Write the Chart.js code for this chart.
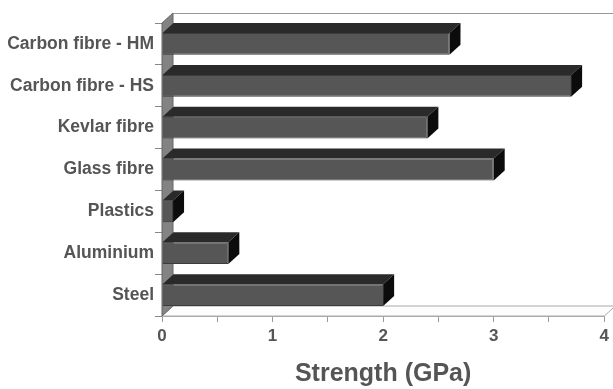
<!DOCTYPE html>
<html>
<head>
<meta charset="utf-8">
<script src="https://cdn.jsdelivr.net/npm/chart.js@4.4.0/dist/chart.umd.min.js"></script>
<style>
  html, body { margin: 0; padding: 0; background: #fff; }
  #wrap { width: 613px; height: 389px; }
</style>
</head>
<body>
<div id="wrap"><canvas id="strength-chart"></canvas></div>
<script>
const materials = ['Carbon fibre - HM', 'Carbon fibre - HS', 'Kevlar fibre', 'Glass fibre', 'Plastics', 'Aluminium', 'Steel'];
const strengthGPa = [2.6, 3.7, 2.4, 3.0, 0.1, 0.6, 2.0];
const strengthTicks = [0, 1, 2, 3, 4];

const fontFamily = "'Liberation Sans', Arial, sans-serif";
const textGray = '#555';

// how far the 3d depth goes back (right and up)
const depthX = 11;
const depthY = 10;

const box3d = {
    id: 'box3d',
    beforeDatasetsDraw(chart) {
        const { ctx, chartArea: a } = chart;
        ctx.save();
        ctx.lineWidth = 1;

        //back wall top edge
        ctx.strokeStyle = '#999';
        ctx.beginPath();
        ctx.moveTo(a.left + depthX, a.top - depthY + 0.5);
        ctx.lineTo(chart.width, a.top - depthY + 0.5);
        ctx.stroke();

        //floor
        ctx.fillStyle = '#fdfdfd';
        ctx.strokeStyle = '#aaa';
        ctx.beginPath();
        ctx.moveTo(a.left, a.bottom);
        ctx.lineTo(a.left + depthX, a.bottom - depthY);
        ctx.lineTo(a.right + depthX, a.bottom - depthY);
        ctx.lineTo(a.right, a.bottom);
        ctx.closePath();
        ctx.fill();
        ctx.stroke();

        //left wall
        ctx.fillStyle = '#838383';
        ctx.strokeStyle = '#666';
        ctx.beginPath();
        ctx.moveTo(a.left, a.top);
        ctx.lineTo(a.left + depthX, a.top - depthY);
        ctx.lineTo(a.left + depthX, a.bottom - depthY);
        ctx.lineTo(a.left, a.bottom);
        ctx.closePath();
        ctx.fill();
        ctx.stroke();
        ctx.restore();
    },
    afterDatasetsDraw(chart) {
        const { ctx } = chart;
        const meta = chart.getDatasetMeta(0);
        ctx.save();
        meta.data.forEach(bar => {
            const { x, y, base, height } = bar.getProps(['x', 'y', 'base', 'height'], true);
            const top = y - height / 2;
            const bottom = y + height / 2;

            //top face
            ctx.fillStyle = '#2a2a2a';
            ctx.beginPath();
            ctx.moveTo(base, top);
            ctx.lineTo(base + depthX, top - depthY);
            ctx.lineTo(x + depthX, top - depthY);
            ctx.lineTo(x, top);
            ctx.closePath();
            ctx.fill();

            //right side
            ctx.fillStyle = '#0c0c0c';
            ctx.beginPath();
            ctx.moveTo(x, top);
            ctx.lineTo(x + depthX, top - depthY);
            ctx.lineTo(x + depthX, bottom - depthY);
            ctx.lineTo(x, bottom);
            ctx.closePath();
            ctx.fill();
        });
        ctx.restore();
    }
};

new Chart(document.querySelector('#strength-chart'), {
    type: 'bar',
    data: {
        labels: materials,
        datasets: [{
            label: 'Strength (GPa)',
            data: strengthGPa,
            backgroundColor: '#565656',
            borderColor: '#3c3c3c',
            borderWidth: 1,
            barPercentage: 0.52,
            categoryPercentage: 1
        }]
    },
    options: {
        indexAxis: 'y',
        responsive: true,
        maintainAspectRatio: false,
        devicePixelRatio: 1,
        animation: false,
        layout: { padding: { top: 23, right: 6, left: 0, bottom: 0 } },
        plugins: {
            legend: { display: false },
            tooltip: { enabled: false }
        },
        scales: {
            y: {
                grid: { offset: true, drawOnChartArea: false, tickLength: 7, color: '#888' },
                border: { color: '#888' },
                ticks: {
                    color: textGray,
                    padding: 1,
                    font: { family: fontFamily, size: 17.5, weight: 'bold' }
                },
                afterFit(scale) { scale.width = 162; }
            },
            x: {
                min: 0,
                max: 4,
                grid: { drawOnChartArea: false, tickLength: 6, color: '#999' },
                border: { color: '#aaa' },
                ticks: {
                    stepSize: 0.5,
                    color: textGray,
                    padding: 4,
                    font: { family: fontFamily, size: 17, weight: 'bold' },
                    callback: v => strengthTicks.includes(v) ? String(v) : ''
                },
                title: {
                    display: true,
                    text: 'Strength (GPa)',
                    color: textGray,
                    padding: 0,
                    font: { family: fontFamily, size: 25, weight: 'bold' }
                },
                afterFit(scale) { scale.height = 73; }
            }
        }
    },
    plugins: [box3d]
});
</script>
</body>
</html>
